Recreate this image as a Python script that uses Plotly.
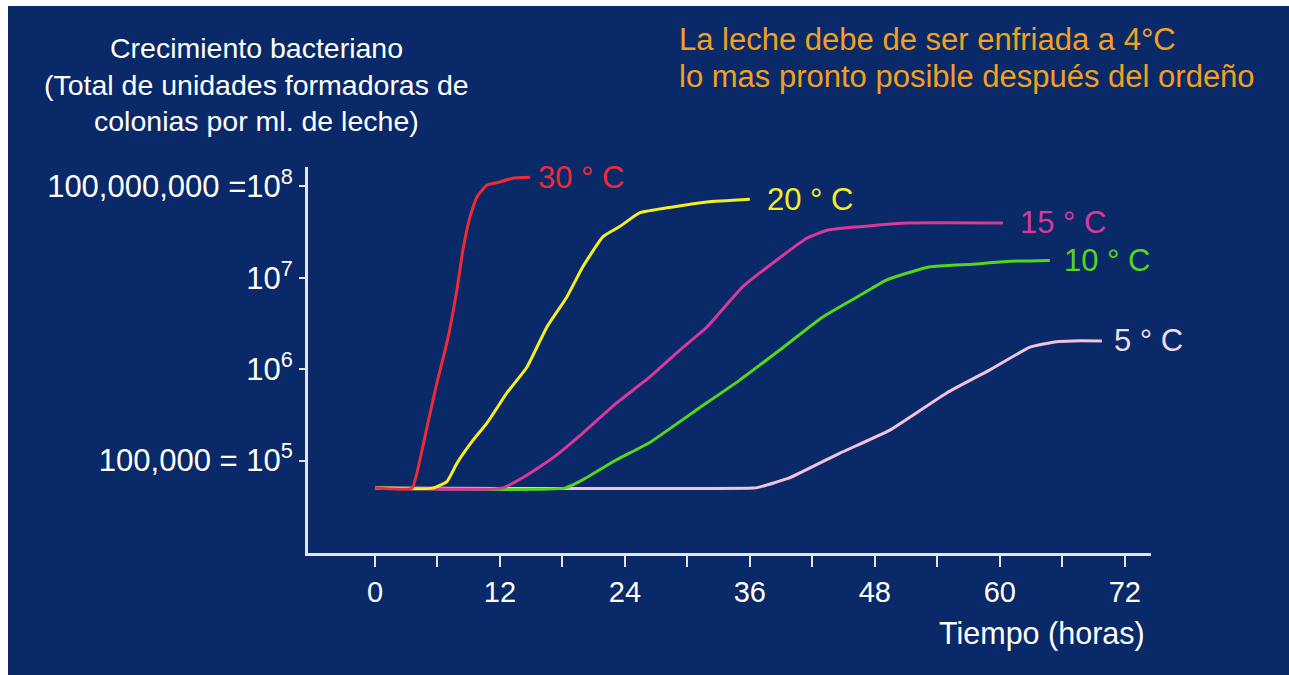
import math
import plotly.graph_objects as go

# ---------------- data ----------------
hours_30 = [0, 3.55, 4.32, 5.0, 5.95, 6.91, 7.87, 8.44, 9.12, 9.79, 10.75, 12.0, 13.24, 14.9]
ufc_30 = [5.0e4, 5.0e4, 1.02e5, 2.33e5, 7.08e5, 1.95e6, 7.36e6, 2.0e7, 4.62e7, 7.66e7,
          1.035e8, 1.117e8, 1.23e8, 1.26e8]

hours_20 = [0, 5.57, 6.91, 7.87, 9.40, 10.75, 12.67, 14.59, 16.5, 18.43, 19.96, 21.9,
            23.5, 25.4, 28.6, 31.9, 36.0]
ufc_20 = [5.0e4, 5.0e4, 5.89e4, 9.33e4, 1.66e5, 2.57e5, 5.5e5, 1.05e6, 2.88e6, 6.17e6,
          1.32e7, 2.82e7, 3.63e7, 5.13e7, 5.96e7, 6.76e7, 7.24e7]

hours_15 = [0, 12.19, 14.59, 17.08, 19.96, 23.2, 26.4, 29.27, 31.86, 35.3, 38.2, 41.5,
            43.4, 46.3, 51.05, 60.3]
ufc_15 = [5.0e4, 5.0e4, 6.92e4, 1.07e5, 2.0e5, 4.27e5, 8.22e5, 1.62e6, 2.88e6, 7.94e6,
          1.45e7, 2.72e7, 3.31e7, 3.6e7, 3.98e7, 3.98e7]

hours_10 = [0, 18.23, 19.96, 23.2, 26.4, 30.7, 35.03, 38.87, 43.0, 46.3, 49.1, 51.05,
            53.3, 57.4, 60.65, 64.8]
ufc_10 = [5.0e4, 5.0e4, 6.17e4, 1.02e5, 1.58e5, 3.47e5, 7.59e5, 1.62e6, 3.72e6, 6.17e6,
          9.44e6, 1.12e7, 1.32e7, 1.41e7, 1.51e7, 1.55e7]

hours_5 = [0, 36.3, 36.9, 39.8, 44.6, 49.4, 54.9, 59.0, 62.9, 65.45, 67.0, 69.8]
ufc_5 = [5.0e4, 5.0e4, 5.13e4, 6.46e4, 1.2e5, 2.14e5, 5.5e5, 9.77e5, 1.74e6, 2.0e6,
         2.04e6, 2.04e6]

series_labels = ["5 ° C", "10 ° C", "15 ° C", "20 ° C", "30 ° C"]

x_tickvals = [0, 12, 24, 36, 48, 60, 72]
x_ticktext = ["0", "12", "24", "36", "48", "60", "72"]
x_minorvals = [6, 18, 30, 42, 54, 66]
y_tickvals = [1e5, 1e6, 1e7, 1e8]
y_ticktext = ["100,000 = 10<sup>5</sup>", "10<sup>6</sup>", "10<sup>7</sup>",
              "100,000,000 =10<sup>8</sup>"]

ylabel_lines = ["Crecimiento bacteriano", "(Total de unidades formadoras de",
                "colonias por ml. de leche)"]
note_lines = ["La leche debe de ser enfriada a 4°C",
              "lo mas pronto posible después del ordeño"]
xlabel = "Tiempo (horas)"

# ---------------- layout constants ----------------
W, H = 1289, 675
ML, MR, MT, MB = 308, 138, 167, 122
BG = "#0a2968"
AXC = "#e4e4ee"
FONT = "Liberation Sans, Arial, Helvetica, sans-serif"
PW, PH = W - ML - MR, H - MT - MB


def px(xp):
    return (xp - ML) / PW


def py(yp):
    return (H - MB - yp) / PH


colors = ["#f3c3de", "#55d61c", "#d9399a", "#f4ee22", "#ef2a35"]
label_colors = ["#f0dcea", "#55d61c", "#d9399a", "#f4ee22", "#ef2a35"]
label_shift = [10, 12, 15, 15, 6]

xs = [hours_5, hours_10, hours_15, hours_20, hours_30]
ys = [ufc_5, ufc_10, ufc_15, ufc_20, ufc_30]

fig = go.Figure()
for xv, yv, c in zip(xs, ys, colors):
    fig.add_trace(go.Scatter(x=xv, y=yv, mode="lines",
                             line=dict(color=c, width=3, shape="spline", smoothing=0.4),
                             hoverinfo="skip"))

annotations = []
for xv, yv, lab, lc, sh in zip(xs, ys, series_labels, label_colors, label_shift):
    annotations.append(dict(x=xv[-1], y=math.log10(yv[-1]), xref="x", yref="y",
                            text=lab, showarrow=False, xanchor="left", yanchor="middle",
                            xshift=sh, font=dict(color=lc, size=31, family=FONT)))

for line, yp in zip(ylabel_lines, [48, 85, 121]):
    annotations.append(dict(x=px(256), y=py(yp), xref="paper", yref="paper", text=line,
                            showarrow=False, xanchor="center", yanchor="middle",
                            font=dict(color="white", size=28.5, family=FONT)))
for line, yp in zip(note_lines, [40, 76]):
    annotations.append(dict(x=px(677), y=py(yp), xref="paper", yref="paper", text=line,
                            showarrow=False, xanchor="left", yanchor="middle",
                            font=dict(color="#f2a11f", size=31, family=FONT)))
annotations.append(dict(x=px(1147), y=py(633), xref="paper", yref="paper",
                        text=xlabel, showarrow=False, xanchor="right", yanchor="middle",
                        font=dict(color="white", size=30.5, family=FONT)))

shapes = [
    dict(type="rect", xref="paper", yref="paper", x0=px(0), x1=px(8), y0=py(H), y1=py(0),
         fillcolor="white", line=dict(width=0), layer="below"),
    dict(type="rect", xref="paper", yref="paper", x0=px(0), x1=px(W), y0=py(6), y1=py(0),
         fillcolor="white", line=dict(width=0), layer="below"),
]

fig.update_layout(
    width=W, height=H,
    margin=dict(l=ML, r=MR, t=MT, b=MB),
    paper_bgcolor=BG, plot_bgcolor=BG,
    showlegend=False,
    font=dict(family=FONT, color="white"),
    annotations=annotations,
    shapes=shapes,
    xaxis=dict(range=[-6.43, 74.52], tickvals=x_tickvals, ticktext=x_ticktext,
               showgrid=False, zeroline=False, showline=True, linecolor=AXC, linewidth=3,
               ticks="outside", ticklen=11, tickwidth=2, tickcolor=AXC,
               minor=dict(tickvals=x_minorvals, ticks="outside", ticklen=11, tickwidth=2,
                          tickcolor=AXC, showgrid=False),
               tickfont=dict(size=29, color="white", family=FONT)),
    yaxis=dict(type="log", range=[3.989, 8.212], tickvals=y_tickvals, ticktext=y_ticktext,
               showgrid=False, zeroline=False, showline=True, linecolor=AXC, linewidth=3,
               ticks="outside", ticklen=6, tickwidth=2, tickcolor=AXC,
               tickfont=dict(size=31, color="white", family=FONT)),
)

fig.write_html("out.html")
